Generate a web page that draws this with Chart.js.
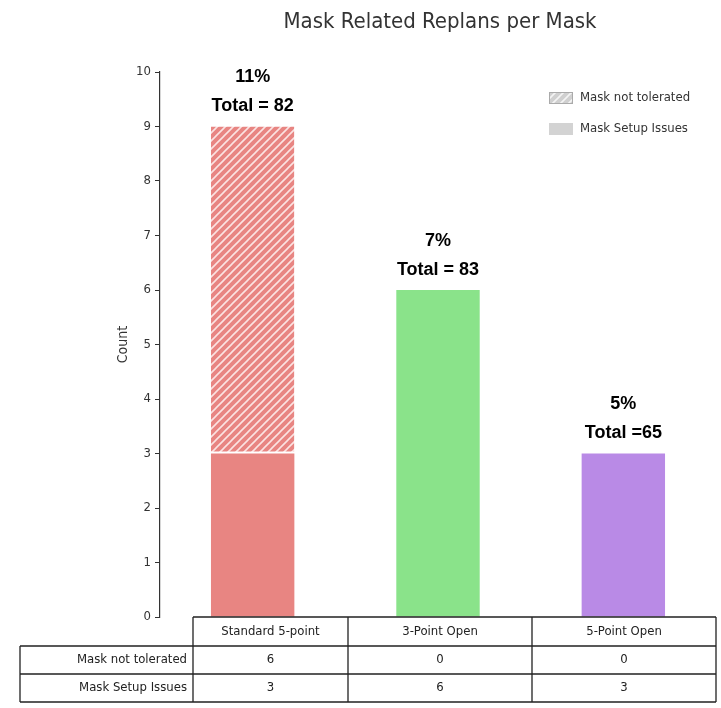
<!DOCTYPE html>
<html>
<head>
<meta charset="utf-8">
<script src="https://cdn.jsdelivr.net/npm/chart.js@4"></script>
<style>
  body { margin: 0; background: #fff; }
  #wrap { width: 721px; height: 708px; }
</style>
</head>
<body>
<div id="wrap"><canvas id="grafico" width="721" height="708"></canvas></div>
<script>
// datos
const categorias = ["Standard 5-point", "3-Point Open", "5-Point Open"];
const noTolerada = [6, 0, 0];
const problemasAjuste = [3, 6, 3];
const porcentajes = ["11%", "7%", "5%"];
const totales = ["Total = 82", "Total = 83", "Total =65"];
const ticksY = [0, 1, 2, 3, 4, 5, 6, 7, 8, 9, 10];

const colores = ["#e88582", "#8ae38a", "#b98ae6"];
const FUENTE = "'DejaVu Sans Condensed', 'Liberation Sans Narrow', 'DejaVu Sans', sans-serif";

// patron rayado
function rayado(color, linea) {
  let c = document.createElement("canvas");
  c.width = 8; c.height = 8;
  let x = c.getContext("2d");
  x.fillStyle = color;
  x.fillRect(0, 0, 8, 8);
  x.strokeStyle = linea;
  x.lineWidth = 1.6;
  x.beginPath();
  x.moveTo(-2, 10); x.lineTo(10, -2);
  x.moveTo(-2, 2); x.lineTo(2, -2);
  x.moveTo(6, 10); x.lineTo(10, 6);
  x.stroke();
  return x.createPattern(c, "repeat");
}

let ctx = document.getElementById("grafico").getContext("2d");

// ------------------- TEXTOS, LEYENDA Y TABLA -------------------
const extras = {
  id: "extras",
  afterDraw(chart) {
    let c = chart.ctx;
    let xs = chart.scales.x, ys = chart.scales.y;
    c.save();

    // titulo
    c.fillStyle = "#333";
    c.font = "22px " + FUENTE;
    c.textAlign = "center";
    c.textBaseline = "middle";
    c.fillText("Mask Related Replans per Mask", 440, 22);

    // etiquetas sobre barras
    c.fillStyle = "#000";
    c.font = "bold 18px 'Liberation Sans', Arial, sans-serif";
    categorias.forEach((cat, i) => {
      let x = xs.getPixelForValue(i);
      let top = ys.getPixelForValue(noTolerada[i] + problemasAjuste[i]);
      c.fillText(porcentajes[i], x, top - 49);
      c.fillText(totales[i], x, top - 20);
    });

    // leyenda
    c.font = "13px " + FUENTE;
    c.textAlign = "left";
    c.fillStyle = rayado("#d0d0d0", "#f4f4f4");
    c.fillRect(549, 92, 24, 12);
    c.strokeStyle = "#aaa";
    c.lineWidth = 1;
    c.strokeRect(549.5, 92.5, 23, 11);
    c.fillStyle = "#d3d3d3";
    c.fillRect(549, 123, 24, 12);
    c.fillStyle = "#333";
    c.fillText("Mask not tolerated", 580, 98);
    c.fillText("Mask Setup Issues", 580, 129);

    // tabla
    let filas = [617, 646, 674, 702];
    let cols = [193, 348, 532, 716];
    c.strokeStyle = "#222";
    c.lineWidth = 1.3;
    c.beginPath();
    c.moveTo(193, filas[0]); c.lineTo(716, filas[0]);
    for (let k = 1; k < filas.length; k++) { c.moveTo(20, filas[k]); c.lineTo(716, filas[k]); }
    c.moveTo(20, filas[1]); c.lineTo(20, filas[3]);
    cols.forEach(x => { c.moveTo(x, filas[0]); c.lineTo(x, filas[3]); });
    c.stroke();

    c.fillStyle = "#222";
    c.font = "13px " + FUENTE;
    c.textAlign = "center";
    categorias.forEach((cat, i) => {
      let xm = (cols[i] + cols[i + 1]) / 2;
      c.fillText(cat, xm, 632);
      c.fillText(String(noTolerada[i]), xm, 660);
      c.fillText(String(problemasAjuste[i]), xm, 688);
    });
    c.textAlign = "right";
    c.fillText("Mask not tolerated", 187, 660);
    c.fillText("Mask Setup Issues", 187, 688);
    c.restore();
  }
};

let chartMascaras = new Chart(ctx, {
  type: "bar",
  data: {
    labels: categorias,
    datasets: [{
      label: "Mask Setup Issues",
      data: problemasAjuste,
      backgroundColor: colores,
      barPercentage: 0.45,
      categoryPercentage: 1
    }, {
      label: "Mask not tolerated",
      data: noTolerada,
      backgroundColor: colores.map(col => rayado(col, "#fbe3e2")),
      borderColor: "#fff",
      borderWidth: { bottom: 2, top: 0, left: 0, right: 0 },
      borderSkipped: false,
      barPercentage: 0.45,
      categoryPercentage: 1
    }]
  },
  options: {
    responsive: false,
    animation: false,
    layout: { padding: { top: 72, bottom: 91, left: 115, right: 5 } },
    plugins: {
      legend: { display: false },
      tooltip: { enabled: false }
    },
    scales: {
      x: { stacked: true, display: false },
      y: {
        stacked: true,
        min: 0,
        max: 10,
        afterFit: s => { s.width = 45; },
        afterBuildTicks: s => { s.ticks = ticksY.map(v => ({ value: v })); },
        grid: { drawOnChartArea: false, tickLength: 5, color: "#333" },
        border: { color: "#333", width: 1.2 },
        ticks: { color: "#333", font: { family: FUENTE, size: 13 }, padding: 4 },
        title: { display: true, text: "Count", color: "#333", font: { family: FUENTE, size: 14 }, padding: 0 }
      }
    }
  },
  plugins: [extras]
});
</script>
</body>
</html>
